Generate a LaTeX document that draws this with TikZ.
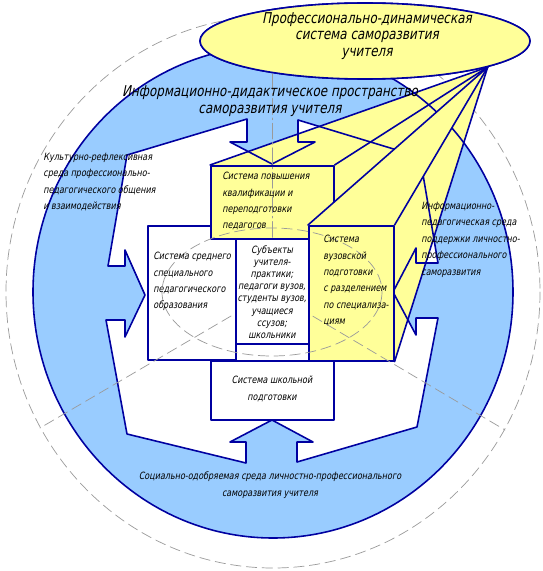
\documentclass[tikz,border=0pt]{standalone}
\usepackage{fontspec}
\setmainfont{DejaVu Sans}[FakeSlant=0.2,FakeStretch=0.8]
\usetikzlibrary{positioning,shapes.geometric}
\definecolor{navy}{HTML}{0000A0}
\definecolor{skyfill}{HTML}{99CCFF}
\definecolor{lemon}{HTML}{FFFF99}
\definecolor{guide}{HTML}{9A9A9A}
\tikzset{
  every picture/.style={line join=round, line cap=round},
  outline/.style={draw=navy, line width=0.9pt},
  sysbox/.style={outline, rectangle, inner sep=0pt, anchor=north west},
  bigtext/.style={font=\fontsize{8.5}{9.4}\selectfont, inner sep=0pt, align=center},
  smalltext/.style={font=\fontsize{5.7}{9.3}\selectfont, inner sep=0pt, align=left, anchor=north west},
  guideline/.style={draw=guide, line width=0.4pt, dash pattern=on 6pt off 3pt},
  axisline/.style={draw=guide, line width=0.4pt, dash pattern=on 9pt off 2pt on 1pt off 2pt},
}
\newcommand{\pxu}{0.02cm}
% white field inside the ring, with the four arrows cut in
\newcommand{\innerfield}{(127,155) -- (247,119) -- (247,142) -- (230,142) -- (272,164)
  -- (315,142) -- (298,142) -- (298,120) -- (420,157) -- (438,263) -- (416,263)
  -- (416,248) -- (393,292) -- (416,335) -- (416,318) -- (438,318) -- (417,427)
  -- (297,462) -- (297,442) -- (313,442) -- (272,420) -- (230,442) -- (246,442)
  -- (246,463) -- (127,434) -- (106,320) -- (125,320) -- (125,337) -- (145,295)
  -- (125,250) -- (125,266) -- (108,266) -- cycle}

\begin{document}
\begin{tikzpicture}[x=0.02cm,y=-0.02cm]
\useasboundingbox (0,0) rectangle (542,571);
% rings
\draw[guideline] (273,292) ellipse [x radius=267, y radius=276];
\fill[skyfill] (273,292) ellipse [x radius=240, y radius=246];
\fill[white] \innerfield;
% nodes
\node[sysbox, minimum width=123*\pxu, minimum height=73*\pxu] (tbox) at (210,165) {};
\node[sysbox, minimum width=85*\pxu, minimum height=135*\pxu] (vbox) at (308,225) {};
\node[ellipse, outline, fill=lemon, minimum width=330*\pxu, minimum height=76*\pxu, inner sep=0pt] (pds) at (365,41) {};
\coordinate (apex) at (pds.-12.5);
\coordinate (hub) at (272,292);
% light beam
\fill[lemon] (apex) -- (tbox.north west) -- (tbox.south west) -- (vbox.west |- tbox.south)
  -- (vbox.south west) -- (vbox.south east) -- cycle;
\draw[outline] (273,292) ellipse [x radius=240, y radius=246];
\draw[outline] \innerfield;
% boxes
\node[sysbox, fill=white, minimum width=88*\pxu, minimum height=134*\pxu] (lbox) at (147,225) {};
\node[sysbox, fill=white, minimum width=123*\pxu, minimum height=59*\pxu] (sbox) at (210,360) {};
\node[sysbox, fill=lemon, minimum width=123*\pxu, minimum height=73*\pxu] at (210,165) {};
\fill[lemon] (apex) -- (vbox.north west) -- (vbox.north east) -- cycle;
\draw[outline] (apex) -- (tbox.north west);
\draw[outline] (apex) -- (tbox.north east);
\draw[outline] (apex) -- (vbox.north west);
\draw[outline] (apex) -- (vbox.north east);
\draw[outline] (apex) -- (vbox.south east);
\node[sysbox, fill=lemon, minimum width=85*\pxu, minimum height=135*\pxu] at (308,225) {};
\node[ellipse, outline, fill=lemon, minimum width=330*\pxu, minimum height=76*\pxu, inner sep=0pt] at (365,41) {};
% axis guides
\draw[axisline] (272,74) -- (hub);
\draw[guideline] (hub) -- (40,428);
\draw[guideline] (hub) -- (505,430);
\draw[guideline] (hub) ellipse [x radius=110, y radius=64];
\node[sysbox, fill=white, minimum width=73*\pxu, minimum height=105*\pxu] (mbox) at (235,238) {};
% texts
\node[bigtext] (pdsText) at (367,36) {Профессионально-динамическая\\система саморазвития\\учителя};
\node[bigtext] (infoText) at (270,101) {Информационно-дидактическое пространство\\саморазвития учителя};
\node[smalltext] (cultText) at (43,153) {Культурно-рефлексивная\\среда профессионально-\\педагогического общения\\и взаимодействия};
\node[smalltext] (pedText) at (421,202) {Информационно-\\педагогическая среда\\поддержки личностно-\\профессионального\\саморазвития};
\node[smalltext] (tboxText) at (222,172) {Система повышения\\квалификации и\\переподготовки\\педагогов};
\node[smalltext] (lboxText) at (153,252) {Система среднего\\специального\\педагогического\\образования};
\node[smalltext, font=\fontsize{5.7}{6.9}\selectfont, align=center, anchor=center] (mboxText) at (272,292) {Субъекты\\учителя-\\практики;\\педагоги вузов,\\студенты вузов,\\учащиеся\\ссузов;\\школьники};
\node[smalltext] (vboxText) at (323,235) {Система\\вузовской\\подготовки\\с разделением\\по специализа-\\циям};
\node[smalltext, align=center, anchor=center] (sboxText) at (272,389) {Система школьной\\подготовки};
\node[smalltext, align=center, anchor=center] (socText) at (270,485) {Социально-одобряемая среда личностно-профессионального\\саморазвития учителя};
\end{tikzpicture}
\end{document}
